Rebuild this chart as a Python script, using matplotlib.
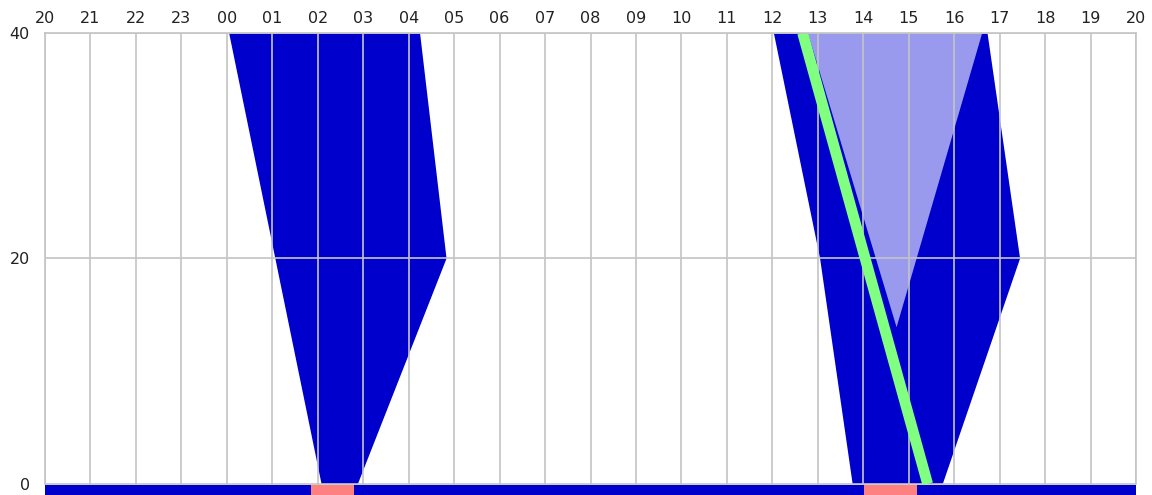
import numpy as np
import matplotlib.pyplot as plt

# times are clock times (HH:MM), x axis runs from 20:00 to 20:00 next day
start_hour = 20

# first dark blue shape (clockwise from top-left)
shape1_time = ['00:03', '04:15', '04:50', '02:53', '02:05', '01:04']
shape1_val = [40, 40, 20, 0, 0, 20]

# second dark blue shape
shape2_time = ['12:02', '16:44', '17:27', '15:45', '13:46', '13:03']
shape2_val = [40, 40, 20, 0, 0, 20]

# light blue triangle inside second shape
light_time = ['12:47', '16:37', '14:44']
light_val = [40, 40, 13.9]

# green line
green_time = ['12:40', '15:25']
green_val = [40, 0]

# pink periods on the bottom strip
pink_start = ['01:51', '14:01']
pink_end = ['02:48', '15:11']

y_ticks = [0, 20, 40]

dark_blue = '#0000cc'
light_blue = '#9999ee'
green = '#80ff80'
pink = '#ff8080'
grid_col = '#c4c4c4'


def to_x(t):
    h, m = t.split(':')
    v = int(h) + int(m) / 60.0
    return (v - start_hour) % 24


plt.rcParams['font.family'] = ['DejaVu Sans']

fig = plt.figure(figsize=(11.52, 4.95), dpi=100)
ax = fig.add_axes([45 / 1152, 0, (1136 - 45) / 1152, 1 - 33 / 495])

ax.fill([to_x(t) for t in shape1_time], shape1_val, color=dark_blue, lw=0, zorder=1)
ax.fill([to_x(t) for t in shape2_time], shape2_val, color=dark_blue, lw=0, zorder=1)
ax.fill([to_x(t) for t in light_time], light_val, color=light_blue, lw=0, zorder=2)
ax.plot([to_x(t) for t in green_time], green_val, color=green, lw=7.8,
        solid_capstyle='butt', zorder=3)

# bottom strip, drawn over the grid
ax.axhspan(-2, -0.05, color=dark_blue, lw=0, zorder=8)
for s, e in zip(pink_start, pink_end):
    ax.fill_between([to_x(s), to_x(e)], -2, -0.05, color=pink, lw=0, zorder=9)

ax.set_xlim(0, 24)
ax.set_ylim(-0.98, 40)

hours = np.arange(0, 25)
ax.set_xticks(hours)
ax.set_xticklabels(['%02d' % ((h + start_hour) % 24) for h in hours])
ax.set_yticks(y_ticks)

ax.grid(True, color=grid_col, lw=1.2, zorder=6)
ax.set_axisbelow(False)
ax.xaxis.tick_top()
ax.tick_params(axis='x', length=0, pad=5, labelsize=11.5, labelcolor='#222222')
ax.tick_params(axis='y', length=0, pad=11, labelsize=11.5, labelcolor='#222222')

for side in ['top', 'right', 'left']:
    ax.spines[side].set_color(grid_col)
    ax.spines[side].set_linewidth(1.2)
    ax.spines[side].set_zorder(7)
ax.spines['left'].set_bounds(0, 40)
ax.spines['right'].set_bounds(0, 40)
ax.spines['bottom'].set_visible(False)

fig.savefig('out.png', dpi=100)
